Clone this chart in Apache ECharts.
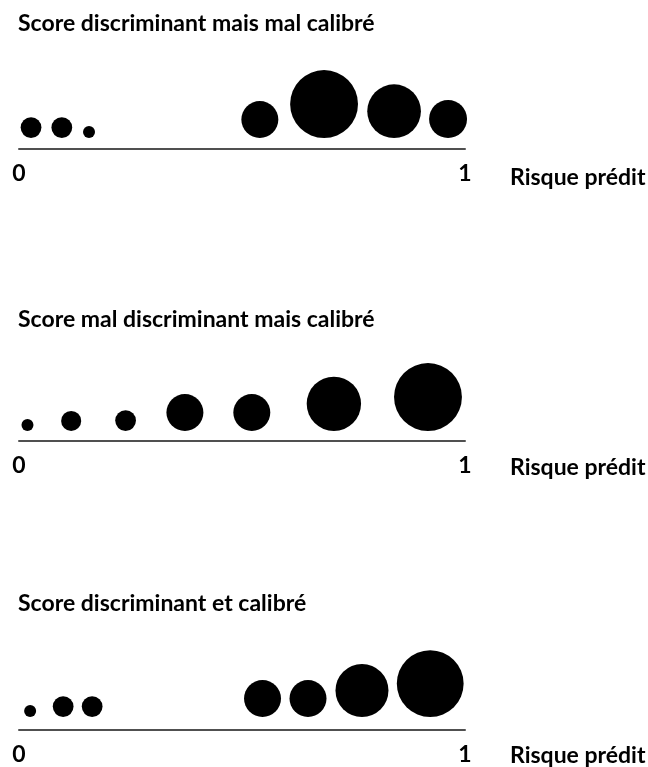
<!DOCTYPE html>
<html>
<head>
<meta charset="utf-8">
<script src="https://cdn.jsdelivr.net/npm/echarts@6/dist/echarts.min.js"></script>
<style>html,body{margin:0;padding:0;background:#fff}#c{width:648px;height:767px}</style>
</head>
<body>
<div id="c"></div>
<script>
// Panel titles
const panelTitles = [
  "Score discriminant mais mal calibré",
  "Score mal discriminant mais calibré",
  "Score discriminant et calibré"
];
const axisName = "Risque prédit";
const tickLabels = ["0", "1"];

// Predicted risk (x) of each group and its relative weight (bubble area)
const risk1 = [0.027, 0.096, 0.157, 0.540, 0.684, 0.841, 0.962];
const weight1 = [3, 3, 1, 9.5, 32, 20, 10];

const risk2 = [0.019, 0.117, 0.239, 0.372, 0.522, 0.706, 0.917];
const weight2 = [1, 2.8, 3, 9.5, 9.5, 20.5, 32];

const risk3 = [0.025, 0.099, 0.164, 0.546, 0.648, 0.769, 0.922];
const weight3 = [1, 3, 3, 9.5, 9.5, 19.5, 31];

const risks = [risk1, risk2, risk3];
const weights = [weight1, weight2, weight3];

const FONT = "Lato";
const FS = 23;
const gridTops = [58, 351, 640];
const axisOffsets = [11, 10, 13];
const titleTops = [12, 308, 592];
const namePads = [17, 15, 14];

const chart = echarts.init(document.getElementById('c'), null, {renderer: 'canvas'});

const option = {
  backgroundColor: '#fff',
  animation: false,
  title: panelTitles.map((t, i) => ({
    text: t, left: 18, top: titleTops[i], padding: 0,
    textStyle: {fontFamily: FONT, fontWeight: 'bold', fontSize: FS, color: '#000'}
  })),
  grid: gridTops.map(t => ({left: 19, right: 183, top: t, height: 80})),
  xAxis: gridTops.map((t, i) => ({
    gridIndex: i, type: 'value', min: 0, max: 1, interval: 1,
    offset: axisOffsets[i],
    name: axisName, nameLocation: 'end', nameGap: 45,
    nameTextStyle: {fontFamily: FONT, fontWeight: 'bold', fontSize: FS, color: '#000',
      align: 'left', verticalAlign: 'top', padding: [namePads[i], 0, 0, 0]},
    axisLine: {show: true, onZero: false, lineStyle: {color: '#505050', width: 2}},
    axisTick: {show: false},
    splitLine: {show: false},
    axisLabel: {fontFamily: FONT, fontWeight: 'bold', fontSize: FS, color: '#000', margin: 13,
      formatter: v => tickLabels[Math.round(v)]}
  })),
  yAxis: gridTops.map((t, i) => ({gridIndex: i, type: 'value', min: 0, max: 1, show: false})),
  series: risks.map((r, i) => ({
    type: 'scatter', xAxisIndex: i, yAxisIndex: i, clip: false,
    data: r.map((x, j) => [x, 0, weights[i][j]]),
    symbol: 'circle',
    symbolSize: v => 12 * Math.sqrt(v[2]),
    symbolOffset: [0, '-50%'],
    itemStyle: {color: '#000', opacity: 1}
  }))
};
chart.setOption(option);
</script>
</body>
</html>
